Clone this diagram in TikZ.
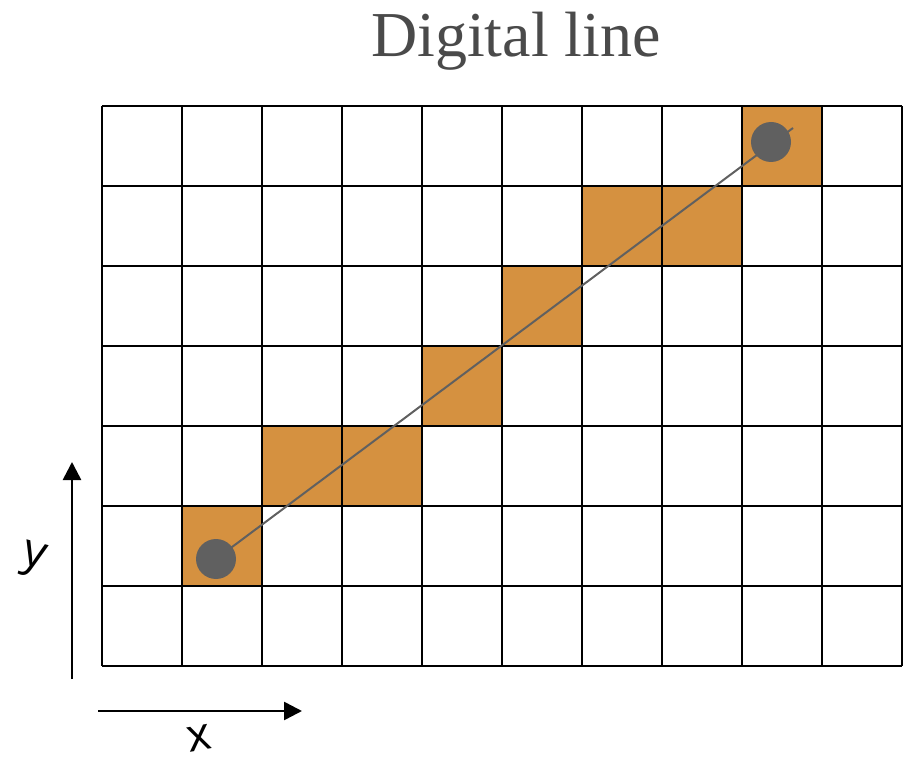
\documentclass[tikz,border=0pt]{standalone}
\usepackage{fontspec}
\setmainfont{Liberation Serif}
\newfontfamily\handfont{Open Sans}
\usepackage{tikz}
\usetikzlibrary{arrows.meta}

\definecolor{pixorange}{HTML}{D59140}
\definecolor{dotgray}{HTML}{606060}
\definecolor{titlegray}{HTML}{4A4A4A}

\begin{document}
\begin{tikzpicture}[
  x=1pt, y=-1pt,
  cell/.style={fill=pixorange},
  gridline/.style={line width=2.6pt, black},
  dot/.style={circle, fill=dotgray, minimum size=40pt, inner sep=0pt},
  seg/.style={line width=2pt, draw=dotgray},
  axis/.style={-{Triangle[length=18pt, width=18pt]}, line width=2.6pt},
  axlabel/.style={font=\handfont\fontsize{46}{46}\selectfont}
]
\useasboundingbox (0,0) rectangle (906,762);

% lit pixels (column, row from top)
\foreach \c/\r in {1/5, 2/4, 3/4, 4/3, 5/2, 6/1, 7/1, 8/0}
  \fill[cell] (102+80*\c, 106+80*\r) rectangle ++(80,80);

% grid
\foreach \i in {0,...,10}
  \draw[gridline] (102+80*\i, 106) -- (102+80*\i, 666);
\foreach \j in {0,...,7}
  \draw[gridline] (102, 106+80*\j) -- (902, 106+80*\j);

\node[font=\fontsize{64}{64}\selectfont, text=titlegray, anchor=base] (title) at (516,57) {Digital line};

% ideal line, then its end points on top
\coordinate (c0) at (216,559);
\coordinate (c1) at (771,142);
\coordinate (pend) at (793,128);
\draw[seg] (c0) -- (pend);
\node[dot] (p0) at (c0) {};
\node[dot] (p1) at (c1) {};

% axes
\coordinate (yfrom) at (72,679);
\coordinate (yto) at (72,462);
\coordinate (xfrom) at (98,711);
\coordinate (xto) at (302,711);
\draw[axis] (yfrom) -- (yto);
\draw[axis] (xfrom) -- (xto);
\node[axlabel, rotate=-15] (ylab) at (33,560) {y};
\node[axlabel, rotate=10] (xlab) at (199,738) {x};
\end{tikzpicture}
\end{document}
